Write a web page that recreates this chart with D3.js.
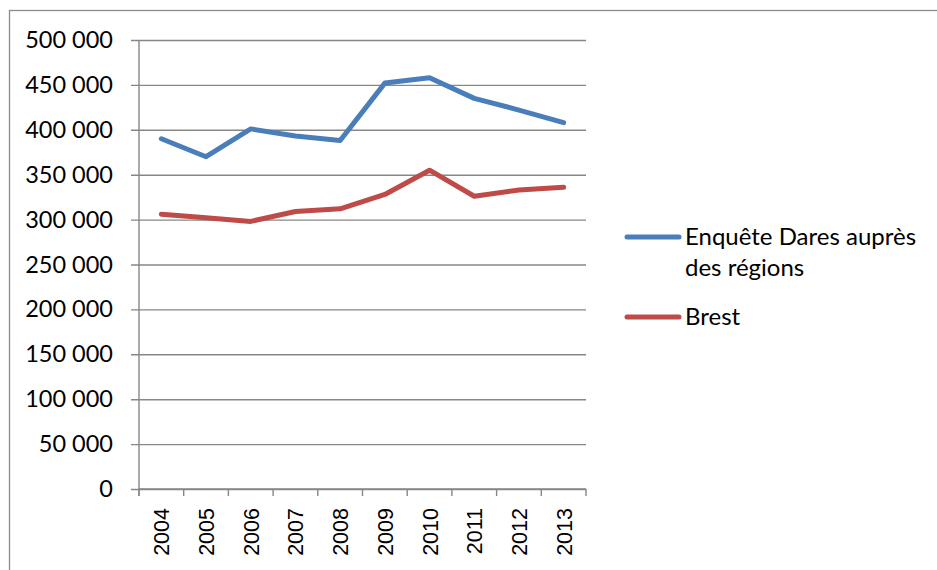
<!DOCTYPE html>
<html>
<head>
<meta charset="utf-8">
<script src="https://cdn.jsdelivr.net/npm/d3@7"></script>
<style>
  body { margin: 0; background: #fff; }
  svg { display: block; }
</style>
</head>
<body>
<div id="chart"></div>
<script>
// Values
const years = ["2004","2005","2006","2007","2008","2009","2010","2011","2012","2013"]
const dares = [390000,370000,401000,393000,388000,452000,458000,435000,422000,408000]
const brest = [306000,302000,298000,309000,312000,328000,355000,326000,333000,336000]
const seriesNames = ["Enquête Dares auprès|des régions", "Brest"]
const seriesColors = ["#4a7ebb", "#be4b48"]
const yTicks = [0,50000,100000,150000,200000,250000,300000,350000,400000,450000,500000]

const W = 937, H = 570
const margin = {top: 40, left: 139, right: 351, bottom: 81}
const plotW = W - margin.left - margin.right,
      plotH = H - margin.top - margin.bottom

const svg = d3.select("#chart").append("svg")
    .attr("width", W).attr("height", H)

// outer chart border (cut by window on right and bottom)
svg.append("rect")
    .attr("x", 9.5).attr("y", 10.5)
    .attr("width", W + 20).attr("height", H + 20)
    .attr("fill", "none").attr("stroke", "#8c8c8c").attr("stroke-width", 1.3)

const g = svg.append("g").attr("transform", `translate(${margin.left},${margin.top})`)

const x = d3.scaleBand().domain(years).range([0, plotW])
const y = d3.scaleLinear().domain([0, 500000]).range([plotH, 0])

const fmt = v => d3.format(",")(v).replace(/,/g, " ")

// grid + y axis
const yAxis = d3.axisLeft(y).tickValues(yTicks).tickSize(-plotW).tickPadding(26).tickFormat(fmt)
const ya = g.append("g").call(yAxis)
ya.select(".domain").remove()
ya.selectAll(".tick line").attr("stroke", "#878787").attr("stroke-width", 1.4).attr("x1", -8)
ya.selectAll(".tick text")
    .attr("font-family", "Lato, 'Open Sans', sans-serif")
    .attr("font-size", 23.5).attr("fill", "#000")

// x axis
const xa = g.append("g").attr("transform", `translate(0,${plotH})`)
xa.append("line").attr("x1", 0).attr("x2", plotW)
    .attr("stroke", "#878787").attr("stroke-width", 1.4)
xa.selectAll(".tk").data(d3.range(years.length + 1)).enter().append("line")
    .attr("x1", i => i * x.step()).attr("x2", i => i * x.step())
    .attr("y1", 0).attr("y2", 7)
    .attr("stroke", "#878787").attr("stroke-width", 1.4)
xa.selectAll(".lbl").data(years).enter().append("text")
    .attr("transform", d => `translate(${x(d) + x.bandwidth() / 2 + 8},19) rotate(-90)`)
    .attr("text-anchor", "end")
    .attr("font-family", "'Liberation Sans', Arial, sans-serif")
    .attr("font-size", 21.5).attr("fill", "#000")
    .text(d => d)

// y axis line
g.append("line").attr("x1", 0).attr("x2", 0).attr("y1", 0).attr("y2", plotH + 7)
    .attr("stroke", "#878787").attr("stroke-width", 1.4)

// lines
const line = d3.line().x((d, i) => x(years[i]) + x.bandwidth() / 2).y(d => y(d))
;[dares, brest].forEach((s, k) => {
  g.append("path").datum(s)
      .attr("d", line)
      .attr("fill", "none")
      .attr("stroke", seriesColors[k])
      .attr("stroke-width", 5)
      .attr("stroke-linejoin", "round")
      .attr("stroke-linecap", "round")
})

// legend
const legY = [237, 317]
const leg = svg.append("g")
seriesNames.forEach((name, k) => {
  leg.append("line")
      .attr("x1", 627).attr("x2", 679)
      .attr("y1", legY[k]).attr("y2", legY[k])
      .attr("stroke", seriesColors[k]).attr("stroke-width", 5)
      .attr("stroke-linecap", "round")
  const t = leg.append("text")
      .attr("x", 685).attr("y", legY[k] + 8)
      .attr("font-family", "Lato, 'Open Sans', sans-serif")
      .attr("font-size", 24).attr("fill", "#000")
  name.split("|").forEach((part, j) => {
    t.append("tspan").attr("x", 685).attr("dy", j ? 31 : 0).text(part)
  })
})
</script>
</body>
</html>
